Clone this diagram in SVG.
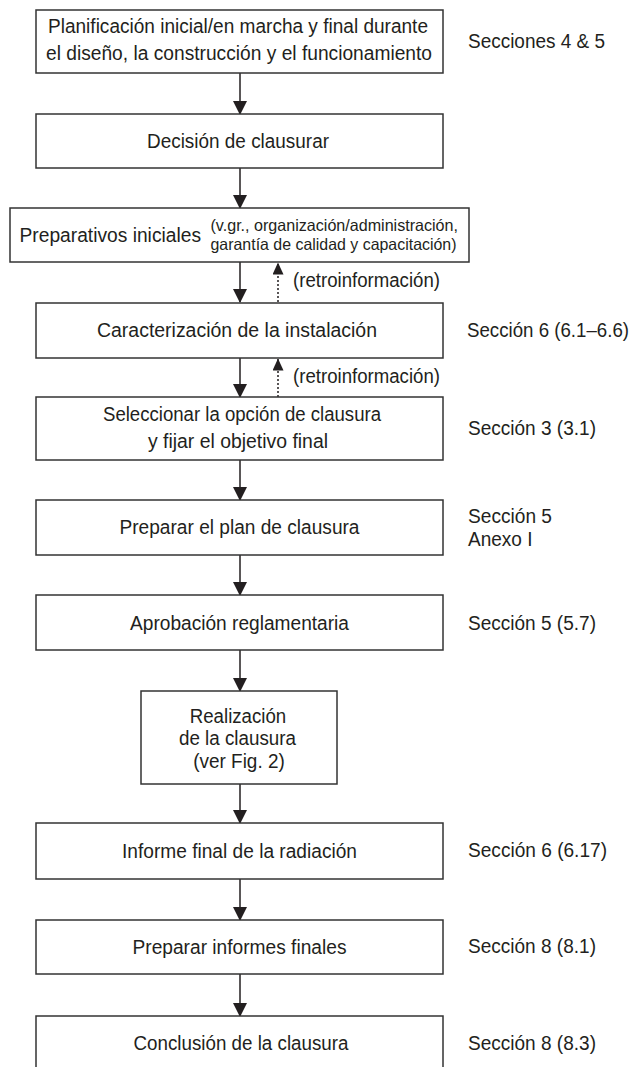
<svg xmlns="http://www.w3.org/2000/svg" width="637" height="1067" viewBox="0 0 637 1067">
<style>
.box{fill:#fff;stroke:#333;stroke-width:1.5}
text{font-family:"Liberation Sans",Arial,sans-serif;fill:#231f20;font-size:20px}
.c{text-anchor:middle}
.sm{font-size:16.5px}
.rt{font-size:19.5px}
.ln{stroke:#231f20;stroke-width:1.5;fill:none}
.dt{stroke:#231f20;stroke-width:1.5;fill:none;stroke-dasharray:2 2}
</style>
<defs>
<marker id="ah" markerUnits="userSpaceOnUse" markerWidth="14" markerHeight="14" refX="13" refY="7" orient="auto" viewBox="0 0 14 14">
<path d="M0,0 L14,7 L0,14 Z" fill="#231f20"/>
</marker>
<marker id="ahs" markerUnits="userSpaceOnUse" markerWidth="12" markerHeight="11" refX="11.5" refY="5.5" orient="auto" viewBox="0 0 12 11">
<path d="M0,0 L12,5.5 L0,11 Z" fill="#231f20"/>
</marker>
</defs>
<g id="connectors">
<line class="ln" x1="240" y1="73" x2="240" y2="114" marker-end="url(#ah)"/>
<line class="ln" x1="240" y1="168" x2="240" y2="208" marker-end="url(#ah)"/>
<line class="ln" x1="240" y1="262" x2="240" y2="302" marker-end="url(#ah)"/>
<line class="dt" x1="278" y1="302" x2="278" y2="263" marker-end="url(#ahs)"/>
<line class="ln" x1="240" y1="358" x2="240" y2="397" marker-end="url(#ah)"/>
<line class="dt" x1="278" y1="397" x2="278" y2="359" marker-end="url(#ahs)"/>
<line class="ln" x1="240" y1="460" x2="240" y2="500" marker-end="url(#ah)"/>
<line class="ln" x1="240" y1="555" x2="240" y2="595" marker-end="url(#ah)"/>
<line class="ln" x1="240" y1="650" x2="240" y2="691" marker-end="url(#ah)"/>
<line class="ln" x1="240" y1="784" x2="240" y2="823" marker-end="url(#ah)"/>
<line class="ln" x1="240" y1="879" x2="240" y2="920" marker-end="url(#ah)"/>
<line class="ln" x1="240" y1="974" x2="240" y2="1016" marker-end="url(#ah)"/>
<text class="rt" x="293" y="287" textLength="147" lengthAdjust="spacingAndGlyphs">(retroinformación)</text>
<text class="rt" x="293" y="383" textLength="147" lengthAdjust="spacingAndGlyphs">(retroinformación)</text>
</g>
<g id="n1">
<rect class="box" x="36" y="10" width="407" height="63"/>
<text class="c" x="238" y="33" textLength="380" lengthAdjust="spacingAndGlyphs">Planificación inicial/en marcha y final durante</text>
<text class="c" x="239" y="60" textLength="386" lengthAdjust="spacingAndGlyphs">el diseño, la construcción y el funcionamiento</text>
<text x="468" y="48" textLength="137" lengthAdjust="spacingAndGlyphs">Secciones 4 &amp; 5</text>
</g>
<g id="n2">
<rect class="box" x="36" y="114" width="407" height="54"/>
<text class="c" x="238" y="148" textLength="182" lengthAdjust="spacingAndGlyphs">Decisión de clausurar</text>
</g>
<g id="n3">
<rect class="box" x="10" y="208" width="459" height="54"/>
<text x="19.5" y="242" textLength="181.5" lengthAdjust="spacingAndGlyphs">Preparativos iniciales</text>
<text class="sm" x="210.5" y="231" textLength="247.5" lengthAdjust="spacingAndGlyphs">(v.gr., organización/administración,</text>
<text class="sm" x="210.5" y="250" textLength="246" lengthAdjust="spacingAndGlyphs">garantía de calidad y capacitación)</text>
</g>
<g id="n4">
<rect class="box" x="36" y="303" width="407" height="55"/>
<text class="c" x="237" y="337" textLength="280" lengthAdjust="spacingAndGlyphs">Caracterización de la instalación</text>
<text x="467" y="337" textLength="162" lengthAdjust="spacingAndGlyphs">Sección 6 (6.1–6.6)</text>
</g>
<g id="n5">
<rect class="box" x="36" y="397" width="407" height="63"/>
<text class="c" x="242" y="421" textLength="278" lengthAdjust="spacingAndGlyphs">Seleccionar la opción de clausura</text>
<text class="c" x="238" y="448" textLength="180" lengthAdjust="spacingAndGlyphs">y fijar el objetivo final</text>
<text x="468" y="435" textLength="128" lengthAdjust="spacingAndGlyphs">Sección 3 (3.1)</text>
</g>
<g id="n6">
<rect class="box" x="36" y="500" width="407" height="55"/>
<text class="c" x="239.5" y="534" textLength="240" lengthAdjust="spacingAndGlyphs">Preparar el plan de clausura</text>
<text x="468" y="523" textLength="84" lengthAdjust="spacingAndGlyphs">Sección 5</text>
<text x="468" y="546" textLength="64.5" lengthAdjust="spacingAndGlyphs">Anexo I</text>
</g>
<g id="n7">
<rect class="box" x="36" y="595" width="407" height="55"/>
<text class="c" x="239.5" y="629.5" textLength="219" lengthAdjust="spacingAndGlyphs">Aprobación reglamentaria</text>
<text x="468" y="630" textLength="128" lengthAdjust="spacingAndGlyphs">Sección 5 (5.7)</text>
</g>
<g id="n8">
<rect class="box" x="141" y="691" width="196" height="93"/>
<text class="c" x="238" y="722.5" textLength="96.5" lengthAdjust="spacingAndGlyphs">Realización</text>
<text class="c" x="237.5" y="745" textLength="117" lengthAdjust="spacingAndGlyphs">de la clausura</text>
<text class="c" x="239" y="767.5" textLength="91.5" lengthAdjust="spacingAndGlyphs">(ver Fig. 2)</text>
</g>
<g id="n9">
<rect class="box" x="36" y="823" width="407" height="56"/>
<text class="c" x="239.5" y="857.5" textLength="235" lengthAdjust="spacingAndGlyphs">Informe final de la radiación</text>
<text x="468" y="857" textLength="139" lengthAdjust="spacingAndGlyphs">Sección 6 (6.17)</text>
</g>
<g id="n10">
<rect class="box" x="36" y="920" width="407" height="54"/>
<text class="c" x="239.5" y="954" textLength="214" lengthAdjust="spacingAndGlyphs">Preparar informes finales</text>
<text x="468" y="953" textLength="128" lengthAdjust="spacingAndGlyphs">Sección 8 (8.1)</text>
</g>
<g id="n11">
<rect class="box" x="36" y="1016" width="407" height="60"/>
<text class="c" x="241" y="1050" textLength="215" lengthAdjust="spacingAndGlyphs">Conclusión de la clausura</text>
<text x="468" y="1050" textLength="128" lengthAdjust="spacingAndGlyphs">Sección 8 (8.3)</text>
</g>
</svg>
